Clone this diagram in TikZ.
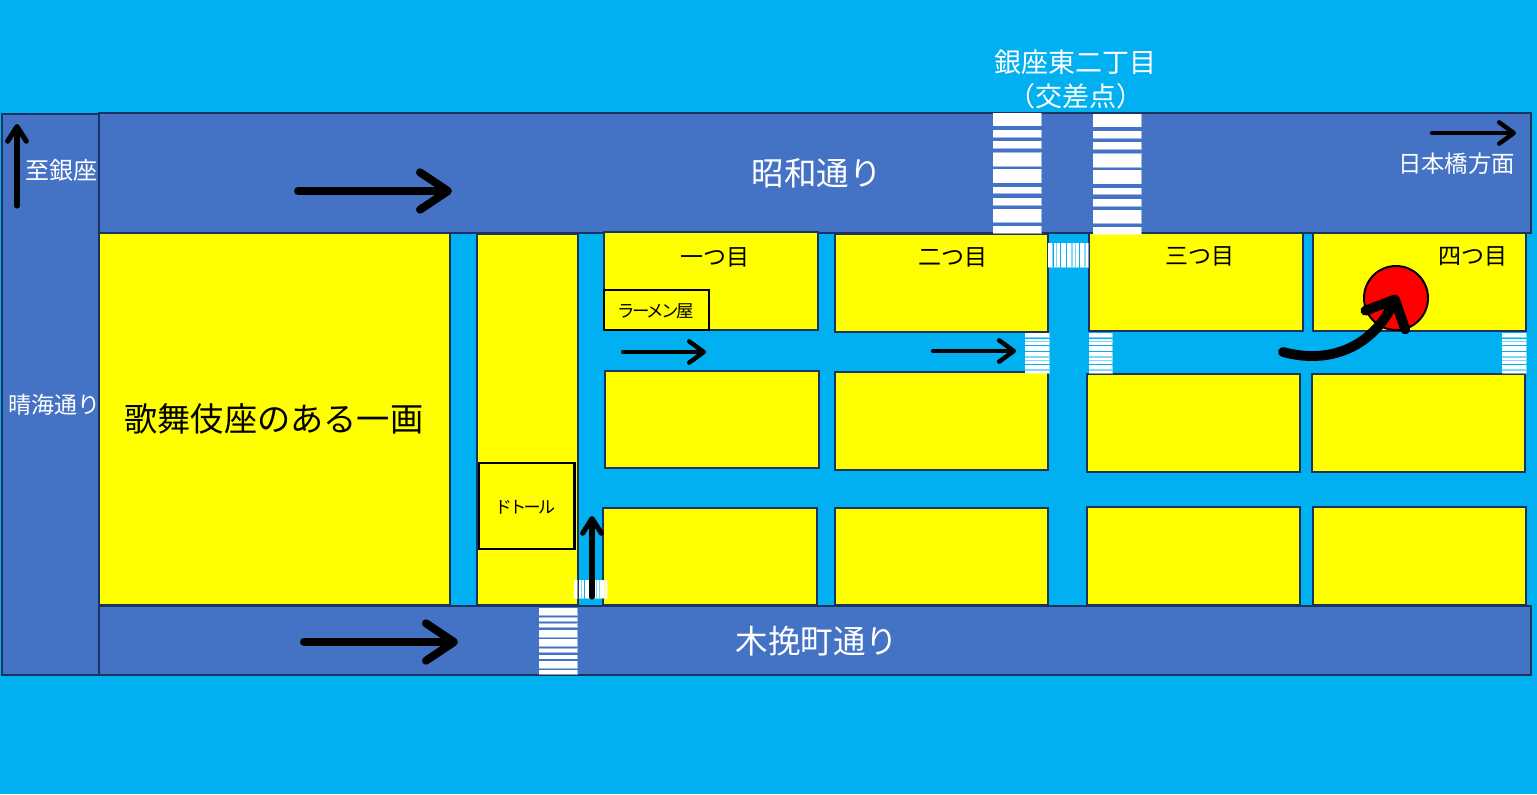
\documentclass[tikz,border=0pt]{standalone}
\usepackage{fontspec}
\setmainfont{Noto Sans CJK JP}
\usetikzlibrary{arrows.meta}
\definecolor{sky}{HTML}{00B0F0}
\definecolor{road}{HTML}{4472C4}
\definecolor{edgeblue}{HTML}{1B3360}
\definecolor{blockyellow}{HTML}{FFFF00}
\definecolor{goalred}{HTML}{FF0000}
\newcommand{\txtsize}[1]{\fontsize{\dimexpr #1pt*3/4\relax}{\dimexpr #1pt*5/4\relax}\selectfont}
\newcommand{\blk}[7][block]{%
  \pgfmathsetlengthmacro{\blkw}{(#5-#3)*0.75}%
  \pgfmathsetlengthmacro{\blkh}{(#6-#4)*0.75}%
  \node[#1,minimum width=\blkw,minimum height=\blkh,anchor=north west] (#2) at (#3,#4) {#7};}
\newcommand{\hstripes}[4]{%
  \foreach \a/\b in {0/.105,.145/.2,.235/.29,.33/.44,.47/.58,.615/.67,.71/.765,.8/.91,.94/1}{%
    \pgfmathsetmacro{\ya}{#3+(#4-#3)*\a}\pgfmathsetmacro{\yb}{#3+(#4-#3)*\b}%
    \filldraw[stripe] (#1,\ya) rectangle (#2,\yb);}}
\newcommand{\vstripes}[4]{%
  \foreach \a/\b in {0/.105,.145/.2,.235/.29,.33/.44,.47/.58,.615/.67,.71/.765,.8/.91,.94/1}{%
    \pgfmathsetmacro{\xa}{#1+(#2-#1)*\a}\pgfmathsetmacro{\xb}{#1+(#2-#1)*\b}%
    \filldraw[stripe] (\xa,#3) rectangle (\xb,#4);}}
\tikzset{
  block/.style={draw=edgeblue,fill=blockyellow,line width=1.5pt,inner sep=0pt,outer sep=0pt,text=black},
  innerbox/.style={draw=black,fill=blockyellow,line width=1.8pt,inner sep=0pt,outer sep=0pt,text=black},
  roadbox/.style={draw=edgeblue,fill=road,line width=1.4pt,inner sep=0pt,outer sep=0pt},
  stripe/.style={fill=white,draw=white,draw opacity=.5,line width=.4pt},
  label/.style={inner sep=0pt,outer sep=0pt},
  wlabel/.style={label,text=white},
  bigarrow/.style={line width=6pt,line cap=round,-{Straight Barb[length=21pt,width=28pt,line width=6pt,round]}},
  midarrow/.style={line width=3.3pt,line cap=round,-{Straight Barb[length=11pt,width=16pt,line width=3.3pt,round]}},
  tallarrow/.style={line width=3.8pt,line cap=round,-{Straight Barb[length=11pt,width=14pt,line width=3.8pt,round]}},
  curvearrow/.style={line width=7.4pt,line cap=round,-{Straight Barb[length=17pt,width=33pt,line width=7.4pt,round]}},
}
\begin{document}
\begin{tikzpicture}[x=0.75pt,y=-0.75pt]
\useasboundingbox (0,0) rectangle (1537,794);
\fill[sky] (0,0) rectangle (1537,794);
% roads
\blk[roadbox]{west}{2}{114}{99}{675}{}
\blk[roadbox]{north}{99}{113}{1531}{233}{}
\blk[roadbox]{south}{99}{606}{1531}{675}{}
% blocks
\blk{kabuki}{99}{233}{450}{605}{\txtsize{33.2}\hspace{-1pt}歌舞伎座のある一画}
\blk{column}{477}{234}{578}{605}{}
\blk[innerbox]{doutor}{479}{463}{574.5}{549}{}
\blk{a1}{604}{232}{818}{330}{}
\blk{a2}{835}{234}{1048}{332}{}
\blk{a3}{1089}{233}{1303}{331}{}
\blk{a4}{1313}{233}{1526}{331}{}
\blk[innerbox]{ramen}{604}{290}{709}{330}{}
\blk{b1}{605}{371}{819}{468}{}
\blk{b2}{835}{372}{1048}{470}{}
\blk{b3}{1087}{374}{1300}{472}{}
\blk{b4}{1312}{374}{1525}{472}{}
\blk{c1}{603}{508}{817}{605}{}
\blk{c2}{835}{508}{1048}{605}{}
\blk{c3}{1087}{507}{1300}{605}{}
\blk{c4}{1313}{507}{1526}{605}{}
% crossings
\hstripes{993}{1041}{113}{233}
\hstripes{1093}{1141}{114}{234}
\hstripes{539}{577}{608}{674}
\hstripes{1025}{1049}{333}{373}
\hstripes{1089}{1112}{333}{373}
\hstripes{1502}{1526}{333}{373}
\vstripes{1048}{1088}{243}{267}
\vstripes{574}{607}{580}{598}
% goal
\node[circle,draw=black,fill=goalred,line width=1.5pt,minimum size=48pt,inner sep=0pt] (goal) at (1396,298) {};
% labels
\node[label] (t12) at (525,507) {\txtsize{17}\addfontfeature{LetterSpace=-15}ドトール};
\node[label] (t13) at (655.5,311) {\txtsize{17.5}\addfontfeature{LetterSpace=-14}ラーメン屋};
\node[wlabel] (t1) at (1075,62) {\txtsize{27}銀座東二丁目};
\node[wlabel] (t2) at (1076,96) {\txtsize{27}（交差点）};
\node[wlabel] (t3) at (816.5,173) {\txtsize{32.5}昭和通り};
\node[wlabel] (t4) at (817,641) {\txtsize{32.5}木挽町通り};
\node[wlabel] (t5) at (61,170) {\txtsize{24}至銀座};
\node[wlabel] (t6) at (54,405) {\txtsize{23}晴海通り};
\node[wlabel] (t7) at (1456.5,164) {\txtsize{23.4}日本橋方面};
\node[label] (t8) at (715,257) {\txtsize{23}一つ目};
\node[label] (t9) at (952.5,257) {\txtsize{23}二つ目};
\node[label] (t10) at (1200,256) {\txtsize{23}三つ目};
\node[label] (t11) at (1472.5,256) {\txtsize{23}四つ目};
% arrows
\coordinate (p1s) at (298,191); \coordinate (p1e) at (452,191);
\coordinate (p2s) at (304,642); \coordinate (p2e) at (458,642);
\coordinate (p3s) at (17,206);  \coordinate (p3e) at (17,124);
\coordinate (p4s) at (1432,133); \coordinate (p4e) at (1516,133);
\coordinate (p5s) at (623,352); \coordinate (p5e) at (706,352);
\coordinate (p6s) at (933,351); \coordinate (p6e) at (1016,351);
\coordinate (p7s) at (592,597); \coordinate (p7e) at (592,516);
\coordinate (p8s) at (1283,352); \coordinate (p8e) at (1397,295);
\draw[bigarrow] (p1s) -- (p1e);
\draw[bigarrow] (p2s) -- (p2e);
\draw[tallarrow] (p3s) -- (p3e);
\draw[midarrow] (p4s) -- (p4e);
\draw[midarrow] (p5s) -- (p5e);
\draw[midarrow] (p6s) -- (p6e);
\draw[tallarrow] (p7s) -- (p7e);
\draw[curvearrow] (p8s) .. controls (1335,366) and (1375,342) .. (p8e);
\end{tikzpicture}
\end{document}
